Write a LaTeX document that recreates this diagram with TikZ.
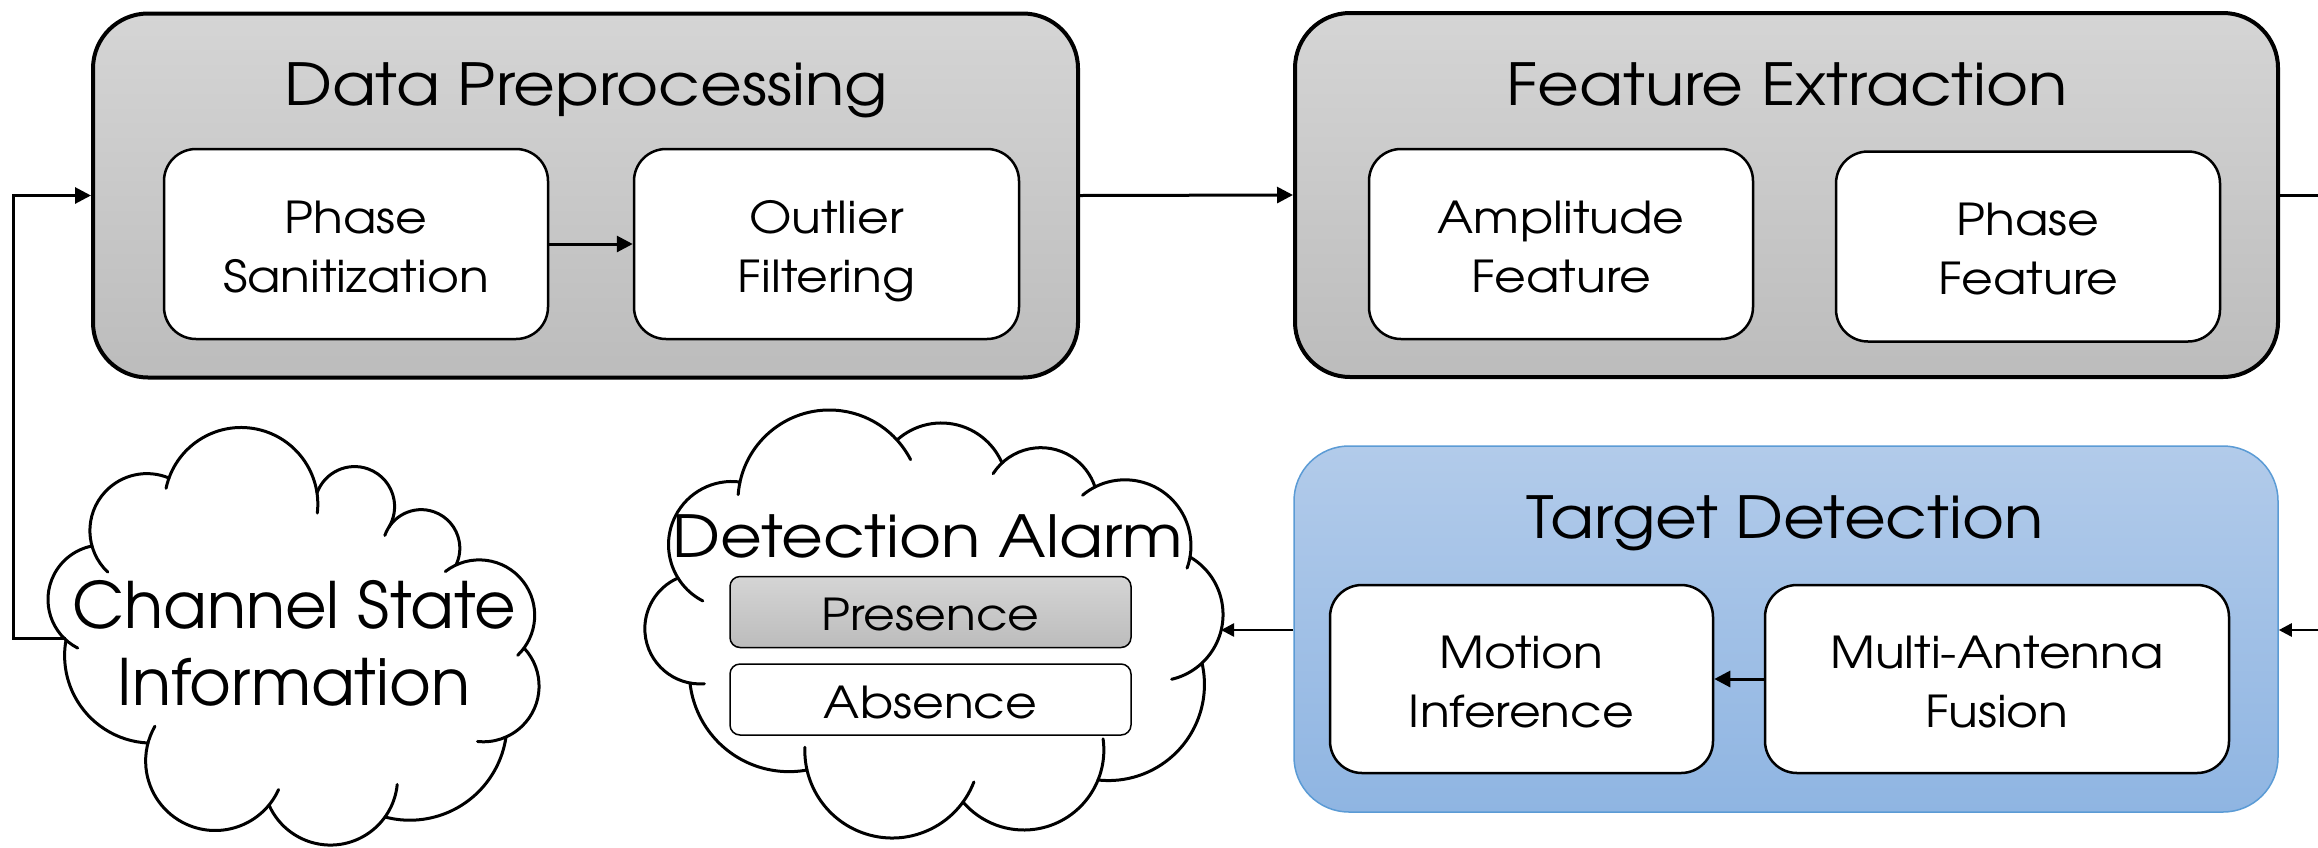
\documentclass[tikz,border=0pt]{standalone}
\usepackage{fontspec}
\setmainfont{TeX Gyre Adventor}[FakeStretch=1.11]
\newfontfamily\csifont{TeX Gyre Adventor}
\usetikzlibrary{arrows.meta}
\definecolor{grayT}{RGB}{213,213,213}
\definecolor{grayB}{RGB}{188,188,188}
\definecolor{blueT}{RGB}{178,203,234}
\definecolor{blueB}{RGB}{143,181,226}
\definecolor{blueE}{RGB}{91,155,213}
\newcommand\ls{\rule[-11pt]{0pt}{59pt}}
\newcommand\cs{\rule[-20pt]{0pt}{75pt}}
% one puff of a cloud: circle through A(#1,#2), E(#3,#4), B(#5,#6),
% drawn clockwise from A to B, extended by #7 degrees before A and #8 after B
\newcommand\puff[8]{%
  \pgfmathsetmacro\cpPe{2*(#3-#1)}\pgfmathsetmacro\cpQe{2*(#4-#2)}%
  \pgfmathsetmacro\cpSe{(#3)*(#3)+(#4)*(#4)-(#1)*(#1)-(#2)*(#2)}%
  \pgfmathsetmacro\cpPb{2*(#5-#3)}\pgfmathsetmacro\cpQb{2*(#6-#4)}%
  \pgfmathsetmacro\cpSb{(#5)*(#5)+(#6)*(#6)-(#3)*(#3)-(#4)*(#4)}%
  \pgfmathsetmacro\cpDt{\cpPe*\cpQb-\cpPb*\cpQe}%
  \pgfmathsetmacro\cpH{(\cpSe*\cpQb-\cpSb*\cpQe)/\cpDt}%
  \pgfmathsetmacro\cpK{(\cpPe*\cpSb-\cpPb*\cpSe)/\cpDt}%
  \pgfmathsetmacro\cpR{veclen(#1-\cpH,#2-\cpK)}%
  \pgfmathsetmacro\cpSa{atan2(#2-\cpK,#1-\cpH)-#7}%
  \pgfmathsetmacro\cpEa{atan2(#6-\cpK,#5-\cpH)}%
  \pgfmathsetmacro\cpDa{mod(\cpEa-\cpSa-#7+720,360)+#7+#8}%
  \draw[cloudline] (\cpH,\cpK) ++(\cpSa:\cpR) arc[radius=\cpR, start angle=\cpSa, delta angle=\cpDa];
}
\begin{document}
\begin{tikzpicture}[x=1pt,y=1pt,
  cloudline/.style={line width=3pt, line cap=round},
  outer/.style={draw, line width=4pt, rounded corners=55pt, top color=grayT, bottom color=grayB, inner sep=0pt},
  tdbox/.style={draw=blueE, line width=1.5pt, rounded corners=55pt, top color=blueT, bottom color=blueB, inner sep=0pt},
  title/.style={font=\fontsize{58}{70}\selectfont, inner sep=0pt, anchor=base},
  inner/.style={draw, line width=2.5pt, fill=white, rounded corners=32pt, align=center, font=\fontsize{44}{59}\selectfont, inner sep=0pt, minimum height=190pt},
  alarm/.style={draw, line width=1.5pt, rounded corners=10pt, minimum width=401pt, minimum height=71pt, inner sep=0pt, font=\fontsize{44}{59}\selectfont},
  arr/.style={line width=3pt, -{Triangle[length=16pt,width=16pt]}},
  arrs/.style={line width=2.5pt, -{Triangle[length=13pt,width=13pt]}},
  plain/.style={line width=3pt}]
\useasboundingbox (0,0) rectangle (2318,-847);

% boxes
\node[outer, minimum width=985pt, minimum height=364pt] (dp) at (585.5,-195.5) {};
\node[title] (dpt) at (586,-105) {Data Preprocessing};
\node[inner, minimum width=384pt] (ps) at (356,-244) {Phase\ls\\Sanitization\ls};
\node[inner, minimum width=385pt] (of) at (826.5,-244) {Outlier\ls\\Filtering\ls};

\node[outer, minimum width=983pt, minimum height=364pt] (fe) at (1786.5,-195) {};
\node[title] (fet) at (1787,-105) {Feature Extraction};
\node[inner, minimum width=384pt] (af) at (1561,-244) {Amplitude\ls\\Feature\ls};
\node[inner, minimum width=384pt] (pf) at (2028,-246.5) {Phase\ls\\Feature\ls};

\node[tdbox, minimum width=984pt, minimum height=366pt] (td) at (1786,-629) {};
\node[title] (tdt) at (1785,-538) {Target Detection};
\node[inner, minimum width=383pt, minimum height=188pt] (mi) at (1521.5,-679) {Motion\ls\\Inference\ls};
\node[inner, minimum width=464pt, minimum height=188pt] (maf) at (1997,-679) {Multi-Antenna\ls\\Fusion\ls};

% clouds (coordinates in units of 100 px, y downwards)
\begin{scope}[x=100pt, y=-100pt]
  % Detection Alarm cloud
  \puff{6.78}{5.78}{6.69}{5.37}{7.40}{4.82}{31}{0}
  \puff{7.40}{4.82}{8.30}{4.10}{8.97}{4.40}{8}{15}
  \puff{8.97}{4.40}{9.43}{4.23}{10.02}{4.63}{0}{0}
  \puff{10.02}{4.63}{10.47}{4.48}{10.95}{4.87}{14}{0}
  \puff{10.95}{4.87}{11.30}{4.80}{11.90}{5.57}{13}{10}
  \puff{11.90}{5.57}{12.23}{6.13}{12.02}{6.63}{0}{30}
  \puff{12.02}{6.63}{11.93}{7.30}{10.98}{7.80}{0}{0}
  \puff{10.98}{7.80}{10.23}{8.30}{9.63}{8.02}{30}{0}
  \puff{9.63}{8.02}{8.93}{8.38}{8.07}{7.70}{15}{15}
  \puff{8.07}{7.70}{7.27}{7.50}{6.90}{6.83}{0}{0}
  \puff{6.90}{6.83}{6.46}{6.40}{6.78}{5.78}{15}{0}
  % Channel State Information cloud
  \puff{0.92}{5.46}{0.90}{5.27}{1.69}{4.78}{31}{0}
  \puff{1.69}{4.78}{2.50}{4.28}{3.17}{4.93}{8}{15}
  \puff{3.17}{4.93}{3.44}{4.68}{3.89}{5.27}{0}{0}
  \puff{3.89}{5.27}{4.37}{5.13}{4.56}{5.65}{14}{0}
  \puff{4.56}{5.65}{5.30}{5.93}{5.24}{6.48}{13}{10}
  \puff{5.24}{6.48}{5.39}{6.83}{5.06}{7.37}{0}{30}
  \puff{5.06}{7.37}{4.62}{8.05}{3.85}{8.17}{0}{0}
  \puff{3.85}{8.17}{3.33}{8.45}{2.69}{8.05}{30}{0}
  \puff{2.69}{8.05}{2.07}{8.30}{1.48}{7.43}{15}{15}
  \puff{1.48}{7.43}{0.69}{6.83}{0.66}{6.40}{0}{0}
  \puff{0.66}{6.40}{0.48}{6.00}{0.92}{5.46}{15}{0}
\end{scope}

\node[title] (dat) at (928,-557) {Detection Alarm};
\node[alarm, top color=grayT, bottom color=grayB] (pres) at (930.5,-612) {Presence\ls};
\node[alarm, fill=white] (abs) at (930.5,-699.5) {Absence\ls};
\node[align=center, font=\csifont\fontsize{64}{77}\selectfont, inner sep=0pt] (csi) at (294,-649) {Channel State\cs\\Information\cs};

\coordinate (daIn) at (1221,-630);
\coordinate (csiOut) at (66,-638);
\coordinate (fbX) at (13,-638);
\coordinate (rEdgeTop) at (2318,-195);
\coordinate (rEdgeBot) at (2318,-630);

% connectors
\draw[arr] (ps.east) -- (of.west);
\draw[arr] (dp.east) -- (fe.west);
\draw[plain] (fe.east) -- (rEdgeTop);
\draw[arrs] (rEdgeBot) -- (rEdgeBot -| td.east);
\draw[arrs] (td.west |- daIn) -- (daIn);
\draw[arr] (maf.west) -- (mi.east);
\draw[arr] (csiOut) -- (fbX) |- (dp.west);
\end{tikzpicture}
\end{document}
